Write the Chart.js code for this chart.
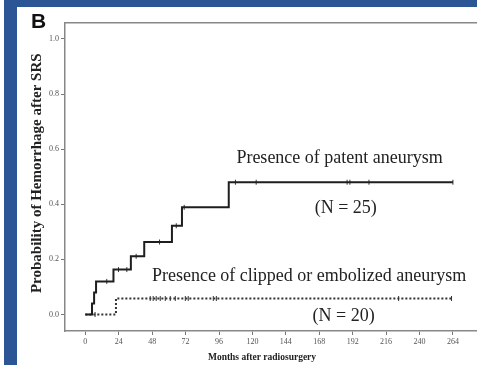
<!DOCTYPE html>
<html>
<head>
<meta charset="utf-8">
<script src="https://cdn.jsdelivr.net/npm/chart.js@4"></script>
<style>
  html, body { margin: 0; padding: 0; background: #fff; }
  #page { position: relative; width: 477px; height: 365px; overflow: hidden; background: #fff; }
  #bandTop { position: absolute; left: 4px; top: 0; width: 473px; height: 7px; background: #2c5596; }
  #bandLeft { position: absolute; left: 4px; top: 0; width: 13px; height: 365px; background: #2c5596; }
  #panel { position: absolute; left: 31px; top: 10px; font: bold 21px "Liberation Sans", Arial, sans-serif; line-height: 21px; color: #111; }
  #wrap { position: absolute; left: 17px; top: 7px; width: 466px; height: 358px; }
</style>
</head>
<body>
<div id="page">
  <div id="wrap"><canvas id="myChart" width="466" height="358"></canvas></div>
  <div id="bandTop"></div>
  <div id="bandLeft"></div>
  <div id="panel">B</div>
</div>
<script>
// months after SRS and cumulative probability (Kaplan-Meier steps)
const patentMonths = [0, 4.8, 6.3, 7.7, 20.2, 32.7, 42.3, 62.2, 69.4, 103, 264];
const patentProb = [0, 0.04, 0.08, 0.12, 0.163, 0.211, 0.263, 0.322, 0.389, 0.48, 0.48];
const patentCensored = [15.4, 23.8, 29.8, 36.5, 53.3, 65.3, 71, 107.8, 122.7, 188, 190, 203.7, 264];

const clippedMonths = [0, 22, 263];
const clippedProb = [0, 0.058, 0.058];
const clippedCensored = [7, 46.6, 48.7, 50.9, 53.8, 57.4, 61, 64.6, 71.8, 73.9, 91.9, 94.1, 225, 263];

const xTicks = [0, 24, 48, 72, 96, 120, 144, 168, 192, 216, 240, 264];
const yTicks = [0, 0.2, 0.4, 0.6, 0.8, 1.0];

const notes = [
  { text: "Presence of patent aneurysm", x: 182.6, y: 0.566 },
  { text: "(N = 25)", x: 187, y: 0.385 },
  { text: "Presence of clipped or embolized aneurysm", x: 160.7, y: 0.14 },
  { text: "(N = 20)", x: 185.5, y: -0.006 },
];

// value of a step curve at a given month
function stepAt(months, probs, m) {
  let v = probs[0];
  for (let i = 0; i < months.length; i++) {
    if (months[i] <= m) v = probs[i];
  }
  return v;
}

const toPoints = (xs, ys) => xs.map((x, i) => ({ x: x, y: ys[i] }));

const notesPlugin = {
  id: "notes",
  afterDatasetsDraw(chart) {
    const ctx = chart.ctx;
    const xs = chart.scales.x;
    const ys = chart.scales.y;
    ctx.save();
    ctx.font = '18px "Liberation Serif", "Times New Roman", serif';
    ctx.fillStyle = "#222";
    ctx.textAlign = "center";
    ctx.textBaseline = "middle";
    notes.forEach((n) => {
      ctx.fillText(n.text, xs.getPixelForValue(n.x), ys.getPixelForValue(n.y));
    });
    ctx.restore();
  },
};

const tickFont = { family: '"Liberation Serif", "Times New Roman", serif', size: 8 };
const titleFamily = '"Liberation Serif", "Times New Roman", serif';

const ctx = document.getElementById("myChart").getContext("2d");
const myChart = new Chart(ctx, {
  type: "line",
  data: {
    datasets: [
      {
        label: "Patent",
        data: toPoints(patentMonths, patentProb),
        stepped: "before",
        borderColor: "#1e1e1e",
        borderWidth: 2,
        pointRadius: 0,
        fill: false,
      },
      {
        label: "Clipped or embolized",
        data: toPoints(clippedMonths, clippedProb),
        stepped: "before",
        borderColor: "#333",
        borderWidth: 2,
        borderDash: [2, 2],
        pointRadius: 0,
        fill: false,
      },
      {
        label: "Patent censored",
        type: "scatter",
        data: patentCensored.map((m) => ({ x: m, y: stepAt(patentMonths, patentProb, m) })),
        pointStyle: "line",
        rotation: 90,
        radius: 2.5,
        borderColor: "#333",
        borderWidth: 1,
        showLine: false,
      },
      {
        label: "Clipped censored",
        type: "scatter",
        data: clippedCensored.map((m) => ({ x: m, y: stepAt(clippedMonths, clippedProb, m) })),
        pointStyle: "line",
        rotation: 90,
        radius: 2.5,
        borderColor: "#333",
        borderWidth: 1,
        showLine: false,
      },
    ],
  },
  options: {
    responsive: false,
    animation: false,
    layout: { padding: { top: 16, left: 0, right: 0, bottom: 0 } },
    plugins: {
      legend: { display: false },
      tooltip: { enabled: false },
    },
    scales: {
      x: {
        type: "linear",
        position: "bottom",
        min: -14.6,
        max: 282,
        afterBuildTicks: (s) => { s.ticks = xTicks.map((v) => ({ value: v })); },
        afterFit: (s) => { s.height = 34; },
        grid: { drawOnChartArea: false, drawTicks: true, tickLength: 4, color: "#777" },
        border: { display: true, color: "#888", width: 1.5 },
        ticks: { font: tickFont, color: "#555", padding: 2, maxRotation: 0, autoSkip: false,
                 callback: (v) => String(v) },
        title: { display: true, text: "Months after radiosurgery\u00a0\u00a0\u00a0\u00a0\u00a0\u00a0\u00a0\u00a0", color: "#222",
                 font: { family: titleFamily, size: 9.5, weight: "bold" }, padding: { top: 0, bottom: 2 } },
      },
      x2: {
        type: "linear",
        position: "top",
        min: -14.6,
        max: 282,
        afterFit: (s) => { s.height = 0; },
        grid: { display: false },
        border: { display: true, color: "#888", width: 1.5 },
        ticks: { display: false },
      },
      y: {
        type: "linear",
        min: -0.06,
        max: 1.058,
        afterBuildTicks: (s) => { s.ticks = yTicks.map((v) => ({ value: v })); },
        afterFit: (s) => { s.width = 48; },
        grid: { drawOnChartArea: false, drawTicks: true, tickLength: 4, color: "#777" },
        border: { display: true, color: "#888", width: 1.5 },
        ticks: { font: tickFont, color: "#555", padding: 2, callback: (v) => v.toFixed(1) },
        title: { display: true, text: "\u00a0\u00a0Probability of Hemorrhage after SRS", color: "#222",
                 font: { family: titleFamily, size: 15, weight: "bold" }, padding: { top: 11, bottom: 0 } },
      },
    },
  },
  plugins: [notesPlugin],
});
</script>
</body>
</html>
